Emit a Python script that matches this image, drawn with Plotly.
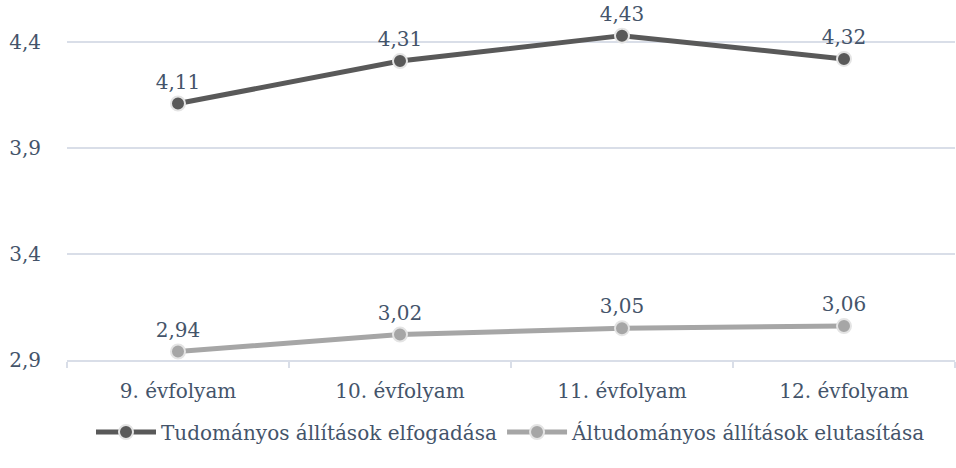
import plotly.graph_objects as go

categories = ["9. évfolyam", "10. évfolyam", "11. évfolyam", "12. évfolyam"]
series1_name = "Tudományos állítások elfogadása"
series1 = [4.11, 4.31, 4.43, 4.32]
series2_name = "Áltudományos állítások elutasítása"
series2 = [2.94, 3.02, 3.05, 3.06]
ytick_vals = [2.9, 3.4, 3.9, 4.4]
ytick_text = ["2,9", "3,4", "3,9", "4,4"]

FONT = "DejaVu Serif"
TXT = "#44546A"
GRID = "#D9DEE8"

fig = go.Figure()
for name, vals, col in [(series1_name, series1, "#595959"), (series2_name, series2, "#A6A6A6")]:
    fig.add_trace(go.Scatter(
        x=categories, y=vals, name=name, mode="lines+markers+text",
        line=dict(color=col, width=5),
        marker=dict(size=14, color=col, line=dict(color="#E4E4E4", width=2)),
        text=[f"{v:.2f}".replace(".", ",") for v in vals],
        textposition="top center",
        textfont=dict(family=FONT, size=20, color=TXT),
        cliponaxis=False,
    ))

fig.update_layout(
    width=956, height=468,
    margin=dict(l=67, r=1, t=10, b=108),
    paper_bgcolor="white", plot_bgcolor="white",
    font=dict(family=FONT, size=20, color=TXT),
    showlegend=True,
    legend=dict(orientation="h", x=0.5, xanchor="center", y=-0.15, yanchor="top",
                itemwidth=60, font=dict(family=FONT, size=20, color=TXT)),
)
fig.update_yaxes(
    range=[2.9, 2.9 + 350 / 212], tickvals=ytick_vals, ticktext=ytick_text,
    showgrid=True, gridcolor=GRID, gridwidth=2, zeroline=False, showline=False,
    ticklabelstandoff=25,
)
fig.update_xaxes(
    range=[-0.5, 3.5],
    showgrid=False, showline=True, linecolor=GRID, linewidth=2,
    ticks="outside", tickson="boundaries", ticklen=6, tickcolor=GRID, tickwidth=2,
    ticklabelstandoff=12,
)
fig.write_html("out.html", config={"displayModeBar": False},
               post_script="document.body.style.margin='0px';")
